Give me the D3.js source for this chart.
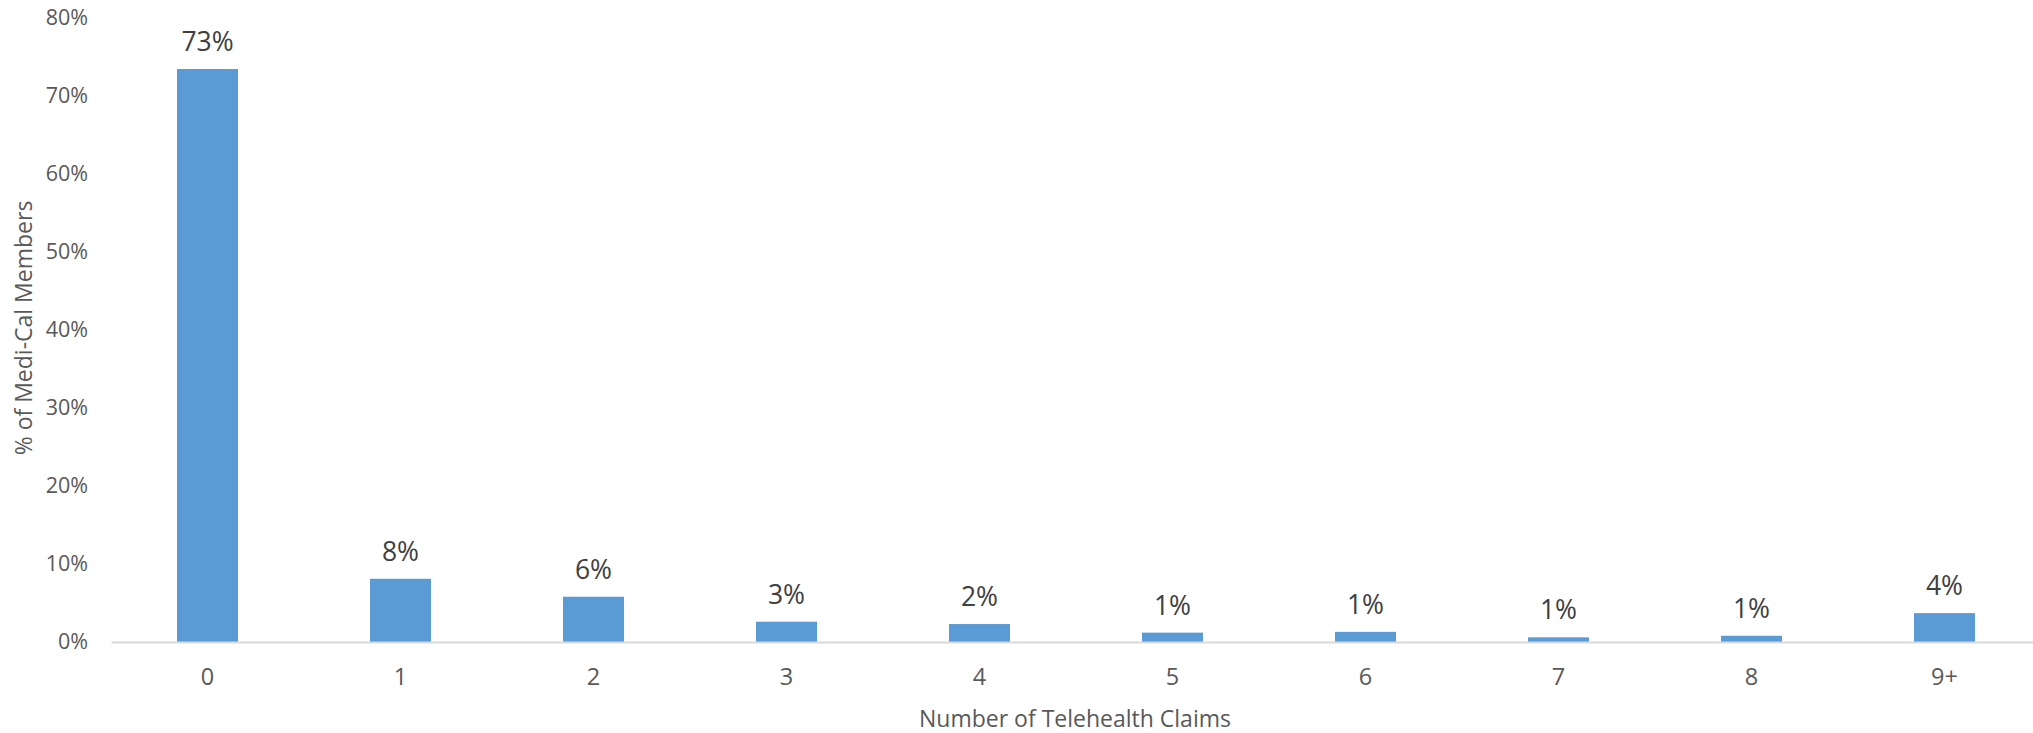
<!DOCTYPE html>
<html>
<head>
<meta charset="utf-8">
<script src="https://cdn.jsdelivr.net/npm/d3@7"></script>
<style>
  html, body { margin: 0; padding: 0; background: #fff; }
  svg { display: block; font-family: "Open Sans", "Noto Sans", sans-serif; }
</style>
</head>
<body>
<svg id="chart" width="2033" height="733"></svg>
<script>
const categories = ["0", "1", "2", "3", "4", "5", "6", "7", "8", "9+"];
const values = [73.4, 8.1, 5.8, 2.6, 2.3, 1.2, 1.3, 0.6, 0.8, 3.7];
const yTicks = [0, 10, 20, 30, 40, 50, 60, 70, 80];
const xTitle = "Number of Telehealth Claims";
const yTitle = "% of Medi-Cal Members";

(function () {
const svg = d3.select("#chart");
const plotLeft = 111, plotRight = 2041, plotTop = 17.5, plotBottom = 642;

const x = d3.scaleBand().domain(categories).range([plotLeft, plotRight]).paddingInner(0.684).paddingOuter(0.342);
const y = d3.scaleLinear().domain([0, 80]).range([plotBottom, plotTop]);

// y axis labels
const yAxis = d3.axisLeft(y).tickValues(yTicks).tickSize(0).tickPadding(0)
  .tickFormat(d => d + "%");
svg.append("g").attr("transform", `translate(88,0)`).call(yAxis)
  .call(g => g.select(".domain").remove())
  .call(g => g.selectAll("text").attr("fill", "#595959").attr("font-size", "21.5px")
    .attr("font-family", "'Open Sans', sans-serif"));

// bars
svg.append("g").selectAll("rect").data(values).join("rect")
  .attr("x", (d, i) => x(categories[i]))
  .attr("width", x.bandwidth())
  .attr("y", d => y(d))
  .attr("height", d => y(0) - y(d))
  .attr("fill", "#5B9BD5");

// baseline + category labels
const xAxis = d3.axisBottom(x).tickSize(0).tickPadding(26);
svg.append("g").attr("transform", `translate(0,${y(0)})`).call(xAxis)
  .call(g => g.select(".domain").attr("stroke", "#D9D9D9").attr("stroke-width", 2))
  .call(g => g.selectAll("text").attr("fill", "#595959").attr("font-size", "23.5px")
    .attr("font-family", "'Open Sans', sans-serif"));

// data labels
const fmt = d3.format(".0%");
svg.append("g").selectAll("text").data(values).join("text")
  .attr("x", (d, i) => x(categories[i]) + x.bandwidth() / 2)
  .attr("y", d => y(d) - 18)
  .attr("text-anchor", "middle")
  .attr("fill", "#404040")
  .attr("font-size", "26.5px")
  .text(d => fmt(d / 100));

// axis titles
svg.append("text")
  .attr("x", 1075).attr("y", 727)
  .attr("text-anchor", "middle")
  .attr("fill", "#595959").attr("font-size", "23px")
  .text(xTitle);

svg.append("text")
  .attr("transform", "translate(32,328) rotate(-90)")
  .attr("text-anchor", "middle")
  .attr("fill", "#595959").attr("font-size", "23px")
  .text(yTitle);
})();
</script>
</body>
</html>
